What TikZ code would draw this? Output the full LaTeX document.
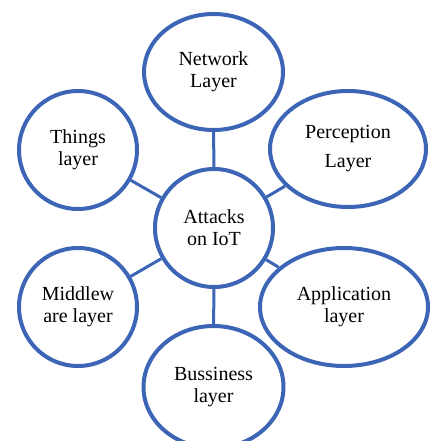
\documentclass[tikz,border=0pt]{standalone}
\usepackage{fontspec}
\setmainfont{Liberation Serif}
\usetikzlibrary{shapes.geometric}
\definecolor{ringblue}{RGB}{60,101,182}

\begin{document}
\begin{tikzpicture}[x=1pt,y=-1pt]
	\tikzstyle{layer}=[draw=ringblue, line width=4pt, ellipse, inner sep=0pt, align=center, font=\fontsize{20}{22}\selectfont]
	\tikzstyle{link} = [draw=ringblue, line width=3pt]
	\useasboundingbox (0,0) rectangle (431,441);

    \node [layer, minimum width=118, minimum height=118] (hub) at (214,228) {Attacks\\on IoT};
    \node [layer, minimum width=139, minimum height=116] (net) at (213.5,72) {Network\\Layer};
    \node [layer, minimum width=118, minimum height=118] (things) at (78,150) {Things\\layer};
    \node [layer, minimum width=156, minimum height=116] (perc) at (348,149) {Perception\\[7pt]Layer};
    \node [layer, minimum width=118, minimum height=118] (mid) at (78,307) {Middlew\\are layer};
    \node [layer, minimum width=168, minimum height=118] (app) at (344,307) {Application\\layer};
    \node [layer, minimum width=140, minimum height=122] (bus) at (213.5,387) {Bussiness\\layer};

    \path[link] (hub) -- (net);
    \path[link] (hub) -- (things);
    \path[link] (hub) -- (perc);
    \path[link] (hub) -- (mid);
    \path[link] (hub) -- (app);
    \path[link] (hub) -- (bus);
\end{tikzpicture}
\end{document}
